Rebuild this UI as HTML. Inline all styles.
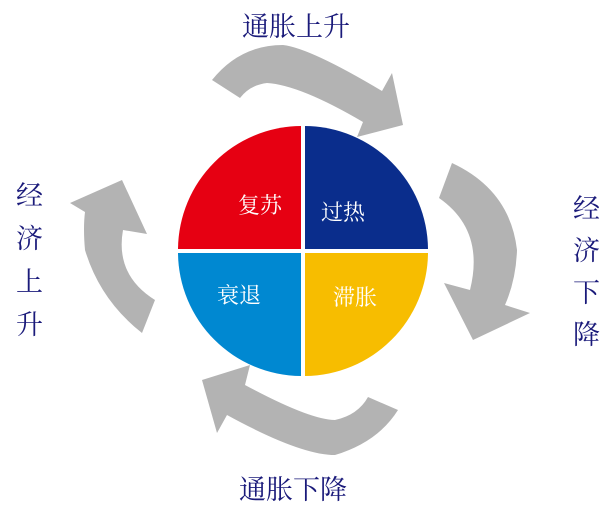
<!DOCTYPE html>
<html><head><meta charset="utf-8"><style>
body{margin:0;background:#fff;width:615px;height:510px;overflow:hidden}
svg text{font-family:"Liberation Serif","Noto Serif CJK SC",serif}
</style></head><body>
<svg width="615" height="510" viewBox="0 0 615 510">
<g fill="#b3b3b3">
<path d="M212,80 Q240,45 283,45 Q310,48 382,91 L392,73 L403,125 L357,137 L363,122 Q300,85 267,83 Q250,85 240,98 Z"/>
<path d="M452,163 Q510,190 517,250 Q516,280 505,305 L530,313 L473,340 L444,283 L470,290 Q485,230 439,198 Z"/>
<path d="M398,410 Q378,442 335,455 Q300,455 227,415 L217,433 L202,380 L250,365 L245,385 Q310,420 335,420 Q358,415 368,397 Z"/>
<path d="M142,333 Q100,300 85,250 Q83,228 85,212 L70,203 L122,180 L147,234 L123,230 Q115,275 155,300 Z"/>
</g>
<path d="M301,249 L301,126 A124,124 0 0 0 178,249 Z" fill="#e60012"/>
<path d="M305,249 L305,126 A124,124 0 0 1 428,249 Z" fill="#0a2d8c"/>
<path d="M301,253 L301,376 A124,124 0 0 1 178,253 Z" fill="#0088d1"/>
<path d="M305,253 L305,376 A124,124 0 0 0 428,253 Z" fill="#f7bd00"/>
<g fill="#fff" font-size="22">
<text x="238" y="213">复苏</text>
<text x="321" y="220">过热</text>
<text x="217" y="303">衰退</text>
<text x="333" y="305">滞胀</text>
</g>
<g fill="#1a1a7a" font-size="27">
<text x="242" y="36">通胀上升</text>
<text x="239" y="499">通胀下降</text>
<text x="16" y="205">经</text><text x="16" y="248">济</text><text x="16" y="291">上</text><text x="16" y="334">升</text>
<text x="573" y="218">经</text><text x="573" y="260">济</text><text x="573" y="302">下</text><text x="573" y="344">降</text>
</g>
</svg>
</body></html>
